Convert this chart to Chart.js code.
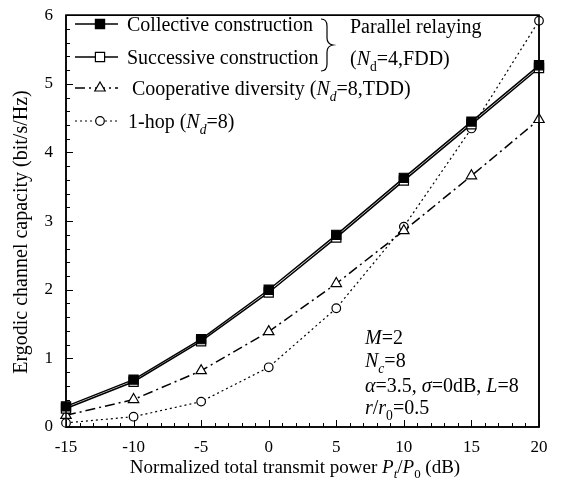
<!DOCTYPE html>
<html><head><meta charset="utf-8">
<script src="https://cdn.jsdelivr.net/npm/chart.js@4"></script>
<style>html,body{margin:0;padding:0;background:#fff}#wrap{width:566px;height:481px}</style>
</head><body><div id="wrap"><canvas id="c" width="566" height="481"></canvas></div>
<script>
const categories = [-15, -10, -5, 0, 5, 10, 15, 20];
const collective  = [0.30, 0.69, 1.28, 2.00, 2.80, 3.63, 4.45, 5.27];
const successive  = [0.27, 0.66, 1.25, 1.96, 2.76, 3.59, 4.41, 5.23];
const cooperative = [0.17, 0.40, 0.82, 1.39, 2.09, 2.86, 3.66, 4.48];
const oneHop      = [0.06, 0.15, 0.37, 0.87, 1.73, 2.92, 4.35, 5.92];
const xTickLabels = ['-15', '-10', '-5', '0', '5', '10', '15', '20'];
const yTickLabels = ['0', '1', '2', '3', '4', '5', '6'];

const FF = "'Liberation Serif', 'Times New Roman', serif";
const pts = arr => categories.map((x, i) => ({x: x, y: arr[i]}));

function richWidth(ctx, segs, size) {
  let w = 0;
  for (const s of segs) {
    ctx.font = (s.i ? 'italic ' : '') + (s.s ? size * 0.68 : size) + 'px ' + FF;
    w += ctx.measureText(s.t).width;
  }
  return w;
}
function drawRich(ctx, segs, x, y, size, align) {
  if (align === 'center') x -= richWidth(ctx, segs, size) / 2;
  ctx.textBaseline = 'alphabetic';
  ctx.textAlign = 'left';
  for (const s of segs) {
    ctx.font = (s.i ? 'italic ' : '') + (s.s ? size * 0.68 : size) + 'px ' + FF;
    ctx.fillText(s.t, x, y + (s.s ? size * 0.28 : 0));
    x += ctx.measureText(s.t).width;
  }
}

function marker(ctx, style, x, y, fill) {
  ctx.save();
  ctx.setLineDash([]);
  ctx.lineWidth = 1.2;
  ctx.strokeStyle = '#000';
  ctx.fillStyle = fill;
  ctx.beginPath();
  if (style === 'rect') { ctx.rect(x - 4.6, y - 4.6, 9.2, 9.2); }
  else if (style === 'circle') { ctx.arc(x, y, 4.3, 0, Math.PI * 2); }
  else if (style === 'triangle') { ctx.moveTo(x, y - 6); ctx.lineTo(x + 5.2, y + 3); ctx.lineTo(x - 5.2, y + 3); ctx.closePath(); }
  ctx.fill(); ctx.stroke();
  ctx.restore();
}

function drawFrame(chart) {
  const ctx = chart.ctx, a = chart.chartArea;
  const xs = chart.scales.x, ys = chart.scales.y;
  ctx.save();
  ctx.setLineDash([]);
  ctx.strokeStyle = '#000';
  ctx.lineWidth = 1.5;
  ctx.beginPath();
  ctx.rect(a.left, a.top, a.right - a.left, a.bottom - a.top);
  ctx.stroke();
  ctx.lineWidth = 1;
  ctx.beginPath();
  for (let v = -15; v <= 20; v++) {
    const px = Math.round(xs.getPixelForValue(v)) + 0.5;
    const len = (v % 5 === 0) ? 7 : 4;
    ctx.moveTo(px, a.bottom); ctx.lineTo(px, a.bottom - len);
  }
  for (let i = 0; i <= 30; i++) {
    const py = Math.round(ys.getPixelForValue(i * 0.2)) + 0.5;
    const len = (i % 5 === 0) ? 7 : 4;
    ctx.moveTo(a.left, py); ctx.lineTo(a.left + len, py);
  }
  ctx.stroke();
  ctx.restore();
}

const overlay = {
  id: 'overlay',
  beforeDraw(chart) {
    drawFrame(chart);
  },
  afterDraw(chart) {
    const ctx = chart.ctx;
    const ds = chart.data.datasets;
    drawFrame(chart);
    ctx.save();
    ctx.fillStyle = '#000';
    // legend
    const rows = [24, 57, 88, 121];
    const styles = ['rect', 'rect', 'triangle', 'circle'];
    const fills = ['#000', '#fff', '#fff', '#fff'];
    rows.forEach((y, k) => {
      ctx.save();
      ctx.strokeStyle = '#000';
      ctx.lineWidth = ds[k].borderWidth;
      ctx.setLineDash(ds[k].borderDash || []);
      ctx.beginPath(); ctx.moveTo(75, y); ctx.lineTo(118, y); ctx.stroke();
      ctx.restore();
      marker(ctx, styles[k], 100, y, fills[k]);
    });
    ctx.fillStyle = '#000';
    const LF = 20;
    drawRich(ctx, [{t: 'Collective construction'}], 127, 31, LF);
    drawRich(ctx, [{t: 'Successive construction'}], 127, 64, LF);
    drawRich(ctx, [{t: 'Cooperative diversity ('}, {t: 'N', i: 1}, {t: 'd', i: 1, s: 1}, {t: '=8,TDD)'}], 132, 95, LF);
    drawRich(ctx, [{t: '1-hop ('}, {t: 'N', i: 1}, {t: 'd', i: 1, s: 1}, {t: '=8)'}], 128, 128, LF);
    // brace
    ctx.strokeStyle = '#000';
    ctx.lineWidth = 1.2;
    ctx.beginPath();
    ctx.moveTo(321, 19);
    ctx.quadraticCurveTo(327, 19, 327, 26);
    ctx.lineTo(327, 38);
    ctx.quadraticCurveTo(327, 44, 333, 45);
    ctx.quadraticCurveTo(327, 46, 327, 52);
    ctx.lineTo(327, 64);
    ctx.quadraticCurveTo(327, 71, 321, 71);
    ctx.stroke();
    drawRich(ctx, [{t: 'Parallel relaying'}], 350, 33, LF);
    drawRich(ctx, [{t: '('}, {t: 'N', i: 1}, {t: 'd', s: 1}, {t: '=4,FDD)'}], 350, 65, LF);
    // annotation
    drawRich(ctx, [{t: 'M', i: 1}, {t: '=2'}], 365, 344, LF);
    drawRich(ctx, [{t: 'N', i: 1}, {t: 'c', i: 1, s: 1}, {t: '=8'}], 365, 367, LF);
    drawRich(ctx, [{t: 'α', i: 1}, {t: '=3.5, '}, {t: 'σ', i: 1}, {t: '=0dB, '}, {t: 'L', i: 1}, {t: '=8'}], 365, 392, LF);
    drawRich(ctx, [{t: 'r', i: 1}, {t: '/'}, {t: 'r', i: 1}, {t: '0', s: 1}, {t: '=0.5'}], 365, 414, LF);
    // axis titles
    drawRich(ctx, [{t: 'Normalized total transmit power '}, {t: 'P', i: 1}, {t: 't', i: 1, s: 1}, {t: '/'}, {t: 'P', i: 1}, {t: '0', s: 1}, {t: ' (dB)'}], 295, 473, 19, 'center');
    ctx.save();
    ctx.translate(27, 232);
    ctx.rotate(-Math.PI / 2);
    drawRich(ctx, [{t: 'Ergodic channel capacity (bit/s/Hz)'}], 0, 0, 20, 'center');
    ctx.restore();
    ctx.restore();
  }
};

const common = {borderColor: '#000', pointBorderColor: '#000', pointBorderWidth: 1.2, clip: false, tension: 0};
new Chart(document.getElementById('c'), {
  type: 'line',
  data: {
    datasets: [
      Object.assign({label: 'Collective construction', data: pts(collective), borderWidth: 1.5, pointStyle: 'rect', pointRadius: 6.5, pointBackgroundColor: '#000'}, common),
      Object.assign({label: 'Successive construction', data: pts(successive), borderWidth: 1.5, pointStyle: 'rect', pointRadius: 6.5, pointBackgroundColor: '#fff'}, common),
      Object.assign({label: 'Cooperative diversity', data: pts(cooperative), borderWidth: 1.5, borderDash: [10, 4, 2, 4], pointStyle: 'triangle', pointRadius: 6, pointBackgroundColor: '#fff'}, common),
      Object.assign({label: '1-hop', data: pts(oneHop), borderWidth: 1.2, borderDash: [2, 3], pointStyle: 'circle', pointRadius: 4.3, pointBackgroundColor: '#fff'}, common)
    ]
  },
  options: {
    responsive: false,
    animation: false,
    devicePixelRatio: 1,
    layout: {padding: {left: 0, top: 11, right: 27, bottom: 0}},
    plugins: {legend: {display: false}, tooltip: {enabled: false}},
    scales: {
      x: {
        type: 'linear', min: -15, max: 20,
        grid: {display: false}, border: {display: false},
        afterBuildTicks: s => { s.ticks = xTickLabels.map(t => ({value: Number(t)})); },
        ticks: {color: '#000', padding: 2, font: {family: FF, size: 17}, maxRotation: 0, callback: (v) => String(v)},
        afterFit: s => { s.height = 54; }
      },
      y: {
        min: 0, max: 6,
        grid: {display: false}, border: {display: false},
        afterBuildTicks: s => { s.ticks = yTickLabels.map(t => ({value: Number(t)})); },
        ticks: {color: '#000', padding: 5, font: {family: FF, size: 17}, callback: (v) => String(v)},
        afterFit: s => { s.width = 66; }
      }
    }
  },
  plugins: [overlay]
});
</script></body></html>
